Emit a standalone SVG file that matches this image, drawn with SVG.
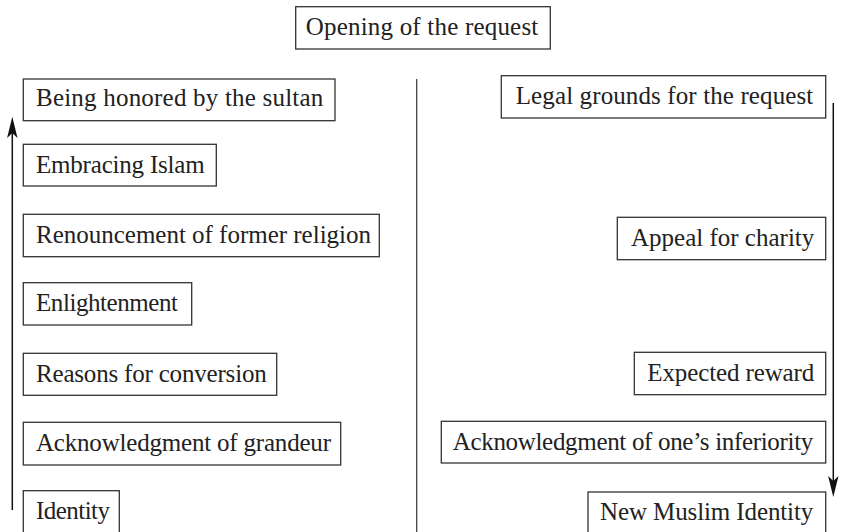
<svg xmlns="http://www.w3.org/2000/svg" width="841" height="532" viewBox="0 0 841 532">
<style>
rect.b{fill:#fff;stroke:#333;stroke-width:1.3}
text{font-family:"Liberation Serif","Times New Roman",serif;font-size:25px;fill:#222}
.ln{stroke:#111;stroke-width:1.5;fill:none}
</style>
<rect width="841" height="532" fill="#fff"/>
<g id="connectors">
<line class="ln" x1="416.7" y1="79" x2="416.7" y2="532" style="stroke-width:1.2;stroke:#333"/>
<line class="ln" x1="12.3" y1="130" x2="12.3" y2="510"/>
<path d="M12.3,116.7 L17.5,138 L12.3,133 L7.1,138 Z" fill="#111"/>
<line class="ln" x1="833.3" y1="103" x2="833.3" y2="485"/>
<path d="M833.3,497 L828.1,476 L833.3,481 L838.5,476 Z" fill="#111"/>
</g>
<g id="n-opening"><rect class="b" x="295.7" y="6.7" width="254.6" height="42.3"/><text x="305.7" y="34.5" textLength="232.6" lengthAdjust="spacing">Opening of the request</text></g>
<g id="n-honored"><rect class="b" x="23.3" y="79" width="311.7" height="41.7"/><text x="36" y="105.5" textLength="287.3" lengthAdjust="spacing">Being honored by the sultan</text></g>
<g id="n-embracing"><rect class="b" x="23.3" y="144.3" width="193" height="41.7"/><text x="36" y="172.8" textLength="168.7" lengthAdjust="spacing">Embracing Islam</text></g>
<g id="n-renouncement"><rect class="b" x="23.3" y="214.3" width="356" height="42.4"/><text x="36" y="242.5" textLength="335" lengthAdjust="spacing">Renouncement of former religion</text></g>
<g id="n-enlightenment"><rect class="b" x="23.3" y="282.7" width="168.4" height="42.3"/><text x="36" y="311" textLength="142" lengthAdjust="spacing">Enlightenment</text></g>
<g id="n-reasons"><rect class="b" x="23.3" y="353.3" width="253.4" height="42"/><text x="36" y="381.5" textLength="230.7" lengthAdjust="spacing">Reasons for conversion</text></g>
<g id="n-grandeur"><rect class="b" x="23.3" y="422.3" width="317.4" height="42.7"/><text x="36" y="450.5" textLength="295" lengthAdjust="spacing">Acknowledgment of grandeur</text></g>
<g id="n-identity"><rect class="b" x="23.3" y="490.7" width="96" height="42.5"/><text x="36" y="519" textLength="74" lengthAdjust="spacing">Identity</text></g>
<g id="n-legal"><rect class="b" x="501.3" y="75.7" width="324.4" height="42.3"/><text x="515.7" y="103.5" textLength="297.6" lengthAdjust="spacing">Legal grounds for the request</text></g>
<g id="n-appeal"><rect class="b" x="617.3" y="217.3" width="208.4" height="42.4"/><text x="631" y="245.5" textLength="183.3" lengthAdjust="spacing">Appeal for charity</text></g>
<g id="n-expected"><rect class="b" x="634.3" y="352.3" width="191.4" height="42.4"/><text x="647.3" y="380.5" textLength="167" lengthAdjust="spacing">Expected reward</text></g>
<g id="n-inferiority"><rect class="b" x="441.3" y="421.3" width="384.4" height="41.7"/><text x="452.7" y="449.5" textLength="360.6" lengthAdjust="spacing">Acknowledgment of one’s inferiority</text></g>
<g id="n-newmuslim"><rect class="b" x="588" y="492" width="237.7" height="42"/><text x="600" y="520" textLength="213.3" lengthAdjust="spacing">New Muslim Identity</text></g>
</svg>
